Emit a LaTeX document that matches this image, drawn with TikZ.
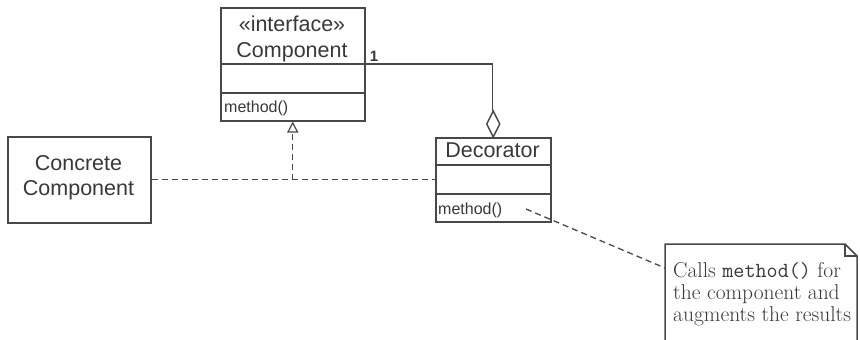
\documentclass[tikz,border=0pt]{standalone}
\usepackage{fontspec}
\newfontfamily\uml{Liberation Sans}
\usetikzlibrary{arrows.meta}
\definecolor{ln}{HTML}{484848}
\definecolor{tx}{HTML}{383838}
\begin{document}
\begin{tikzpicture}[x=1pt,y=-1pt,
  line/.style={draw=ln,line width=1.5pt},
  dsh/.style={draw=ln,line width=1.3pt,dash pattern=on 6pt off 4pt},
  umlbox/.style={line,anchor=north west,inner sep=0pt},
  big/.style={anchor=base,inner sep=0pt,text=tx,font=\uml\fontsize{21.5}{24}\selectfont},
  small/.style={anchor=base west,inner sep=0pt,text=tx,font=\uml\fontsize{16}{18}\selectfont},
  note/.style={anchor=base west,inner sep=0pt,text=tx,font=\fontsize{21.5}{23}\selectfont}]
\useasboundingbox (0,0) rectangle (860,340);
% Component
\node[umlbox,minimum width=144pt,minimum height=113pt] (comp) at (220,7) {};
\draw[line] (220,64) -- (364,64);
\draw[line] (220,93) -- (364,93);
\node[big] (st) at (292,31) {«interface»};
\node[big] (cn) at (292,57) {Component};
\node[small] (cm) at (224,112) {method()};
\node[anchor=base,inner sep=0pt,text=tx,font=\uml\bfseries\fontsize{15}{17}\selectfont] (one) at (374,61) {1};
% Concrete component
\node[umlbox,minimum width=143pt,minimum height=86pt] (conc) at (7,136) {};
\node[big] (c1) at (78.5,170) {Concrete};
\node[big] (c2) at (78.5,195) {Component};
% Decorator
\node[umlbox,minimum width=115pt,minimum height=84pt] (dec) at (435,137) {};
\draw[line] (435,165) -- (550,165);
\draw[line] (435,194) -- (550,194);
\node[big] (dn) at (492.5,157) {Decorator};
\node[small] (dm) at (438,214) {method()};
% aggregation
\coordinate (cr) at (364,64);
\coordinate (dtop) at (492.5,111);
\draw[line] (cr) -| (dtop);
\draw[line,fill=white] (dec.north) -- ++(-6.5,-13) -- ++(6.5,-13) -- ++(6.5,13) -- cycle;
% realization
\coordinate (jn) at (comp.south |- conc.east);
\draw[dsh] (conc.east) -- (dec.west);
\draw[dsh,-{Triangle[open,length=11pt,width=11pt,line width=1.2pt]}] (jn) -- (comp.south);
% note
\coordinate (nl) at (665,268);
\coordinate (ds) at (526,209);
\draw[dsh] (ds) -- (nl);
\draw[line] (665,345) -- (665,244) -- (845,244) -- (857,256) -- (857,345);
\draw[line] (845,244) -- (845,256) -- (857,256);
\node[note] (n1) at (673,277) {Calls {\ttfamily method()} for};
\node[note] (n2) at (673,299) {the component and};
\node[note] (n3) at (673,321) {augments the results};
\end{tikzpicture}
\end{document}
